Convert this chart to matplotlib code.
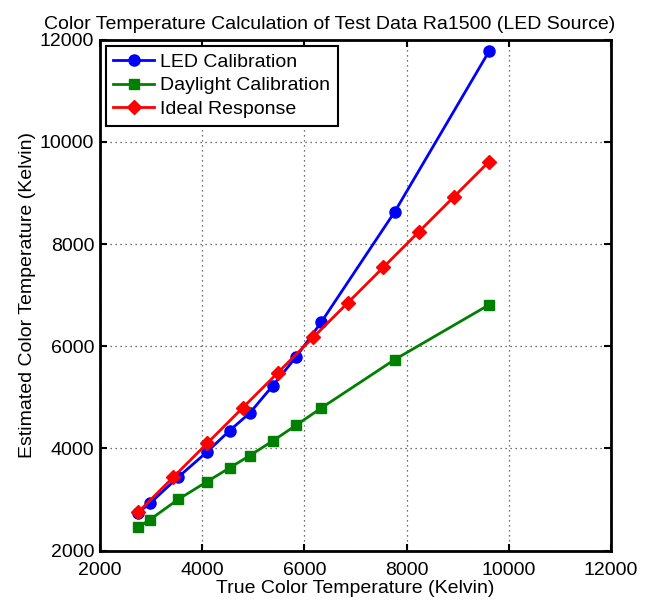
import matplotlib.pyplot as plt
import numpy as np

plt.rcParams['font.family'] = ['Liberation Sans', 'DejaVu Sans']

# data
true_cct = [2750, 2980, 3530, 4090, 4540, 4935, 5380, 5835, 6330, 7770, 9620]
led_cal = [2740, 2925, 3435, 3925, 4350, 4695, 5225, 5785, 6470, 8635, 11785]
daylight_cal = [2455, 2605, 3000, 3345, 3620, 3860, 4145, 4450, 4790, 5740, 6815]

ideal_x = [2750, 3440, 4105, 4795, 5485, 6175, 6855, 7545, 8240, 8930, 9610]
ideal_y = [2750, 3440, 4105, 4795, 5485, 6175, 6855, 7545, 8240, 8930, 9610]

fs = 14

fig = plt.figure(figsize=(6.57, 6.03), dpi=100)
ax = fig.add_axes([0.152, 0.087, 0.778, 0.847])

ax.plot(true_cct, led_cal, '-o', color='#0000ff', lw=2, ms=8, label='LED Calibration')
ax.plot(true_cct, daylight_cal, '-s', color='#008000', lw=2, ms=7, label='Daylight Calibration')
ax.plot(ideal_x, ideal_y, '-D', color='#ff0000', lw=2, ms=7.5, label='Ideal Response')

ax.set_xlim(2000, 12000)
ax.set_ylim(2000, 12000)
ax.set_xticks(np.arange(2000, 12001, 2000))
ax.set_yticks(np.arange(2000, 12001, 2000))
ax.grid(True, linestyle=(0, (1, 3)), color='#444444', lw=0.9)
ax.tick_params(direction='in', top=True, right=True, length=5, width=1.5, labelsize=fs)
ax.tick_params(axis='x', pad=8)
ax.tick_params(axis='y', pad=4)
for s in ax.spines.values():
    s.set_linewidth(2)

ax.set_title('Color Temperature Calculation of Test Data Ra1500 (LED Source)',
             fontsize=fs, pad=8, x=0.45)
ax.set_xlabel('True Color Temperature (Kelvin)', fontsize=fs, labelpad=1)
ax.set_ylabel('Estimated Color Temperature (Kelvin)', fontsize=fs, labelpad=3)

leg = ax.legend(loc='upper left', fontsize=fs, fancybox=False, framealpha=1,
                edgecolor='black', borderaxespad=0.3, handlelength=2.1,
                handletextpad=0.3, borderpad=0.4, labelspacing=0.3)
leg.get_frame().set_linewidth(1.5)

fig.savefig('out.png', dpi=100)
